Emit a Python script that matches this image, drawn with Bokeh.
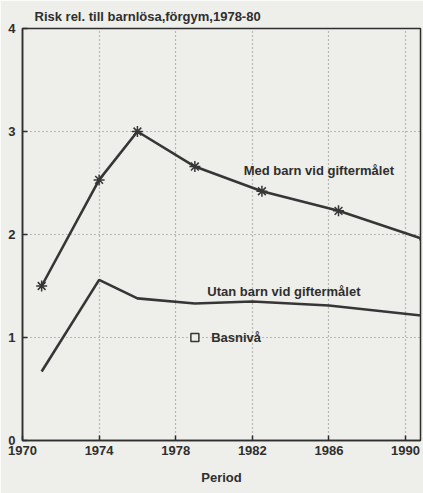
from bokeh.plotting import figure
from bokeh.models import FixedTicker, Range1d, Label
from bokeh.embed import file_html
from bokeh.resources import INLINE

# Data
years_med = [1971, 1974, 1976, 1979, 1982.5, 1986.5, 1991]
risk_med = [1.5, 2.53, 3.0, 2.66, 2.42, 2.23, 1.95]
years_utan = [1971, 1974, 1976, 1979, 1982, 1986, 1991]
risk_utan = [0.67, 1.56, 1.38, 1.33, 1.35, 1.31, 1.21]
base_year = [1979]
base_risk = [1.0]
x_ticks = [1970, 1974, 1978, 1982, 1986, 1990]
y_ticks = [0, 1, 2, 3, 4]
title_text = "Risk rel. till barnlösa,förgym,1978-80"
label_med = "Med barn vid giftermålet"
label_utan = "Utan barn vid giftermålet"
label_base = "Basnivå"
x_label = "Period"

BG = "#eeeeea"
INK = "#2e2e2e"
LINE = "#363636"
FONT = "Liberation Sans"
FS = "13px"

p = figure(width=423, height=493, output_backend="svg", toolbar_location=None,
           x_range=Range1d(1970, 1990.78), y_range=Range1d(0, 4),
           min_border_left=22, min_border_right=3, min_border_top=28, min_border_bottom=53)
p.background_fill_color = BG
p.border_fill_color = BG
p.outline_line_color = INK
p.outline_line_width = 1.5

p.title.text = title_text
p.title.align = "left"
p.title.offset = 12
p.title.text_font = FONT
p.title.text_font_size = FS
p.title.text_font_style = "bold"
p.title.text_color = INK
p.title.standoff = 10

for ax in (p.xaxis[0], p.yaxis[0]):
    ax.axis_line_color = INK
    ax.axis_line_width = 1.5
    ax.major_tick_line_color = INK
    ax.major_tick_line_width = 1.5
    ax.major_tick_in = 5
    ax.major_tick_out = 0
    ax.minor_tick_line_color = None
    ax.major_label_text_font = FONT
    ax.major_label_text_font_size = FS
    ax.major_label_text_font_style = "bold"
    ax.major_label_text_color = INK
    ax.axis_label_text_font = FONT
    ax.axis_label_text_font_size = FS
    ax.axis_label_text_font_style = "bold"
    ax.axis_label_text_color = INK

p.xaxis.ticker = FixedTicker(ticks=x_ticks)
p.yaxis.ticker = FixedTicker(ticks=y_ticks)
p.xaxis.major_label_standoff = 5
p.yaxis.major_label_standoff = 7
p.xaxis.axis_label = x_label
p.xaxis.axis_label_standoff = 12

p.xgrid.ticker = FixedTicker(ticks=x_ticks[1:])
p.ygrid.ticker = FixedTicker(ticks=y_ticks[1:4])
for g in (p.xgrid[0], p.ygrid[0]):
    g.grid_line_color = "#808080"
    g.grid_line_dash = "1 3"
    g.grid_line_width = 1.2

p.line(years_med, risk_med, line_color=LINE, line_width=2.6)
p.scatter(years_med, risk_med, marker="asterisk", size=11, line_color=LINE, line_width=1.5)
p.line(years_utan, risk_utan, line_color=LINE, line_width=2.6)
p.scatter(base_year, base_risk, marker="square", size=8, fill_color=BG, line_color=LINE, line_width=1.5)

def add_label(x, y, t):
    p.add_layout(Label(x=x, y=y, text=t, text_font=FONT, text_font_size=FS,
                       text_font_style="bold", text_color=INK,
                       text_baseline="middle", text_align="left"))

add_label(1981.55, 2.62, label_med)
add_label(1979.65, 1.45, label_utan)
add_label(1979.85, 1.0, label_base)

open("out.html", "w").write(file_html(p, INLINE))
